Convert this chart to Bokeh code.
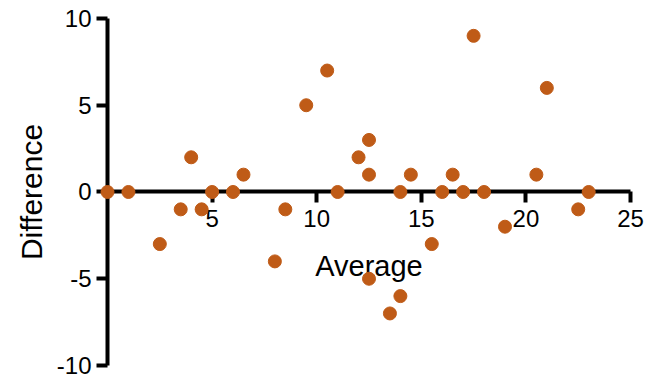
from bokeh.plotting import figure
from bokeh.models import LinearAxis, FixedTicker, Range1d
from bokeh.embed import file_html
from bokeh.resources import INLINE

# Data
average = [0, 1, 2.5, 3.5, 4, 4.5, 5, 6, 6.5, 8, 8.5, 9.5, 10.5, 11, 12, 12.5,
           12.5, 12.5, 13.5, 14, 14, 14.5, 15.5, 16, 16.5, 17, 17.5, 18, 19,
           20.5, 21, 22.5, 23]
difference = [0, 0, -3, -1, 2, -1, 0, 0, 1, -4, -1, 5, 7, 0, 2, 3,
              1, -5, -7, 0, -6, 1, -3, 0, 1, 0, 9, 0, -2,
              1, 6, -1, 0]
x_ticks = [5, 10, 15, 20, 25]
y_ticks = [-10, -5, 0, 5, 10]
y_tick_labels = ["-10", "-5", "0", "5", "10"]

FONT = "Liberation Sans"
COLOR = "#BF5B17"

p = figure(width=654, height=376,
           x_range=Range1d(-5.115, 26.147), y_range=Range1d(-10.634, 11.037),
           output_backend="svg", toolbar_location=None,
           x_axis_type=None, y_axis_type=None,
           min_border=0)
p.outline_line_color = None
p.background_fill_color = "white"
p.border_fill_color = "white"


def style(ax):
    ax.axis_line_width = 4
    ax.axis_line_color = "black"
    ax.major_tick_line_width = 4
    ax.major_tick_line_color = "black"
    ax.major_tick_in = 0
    ax.major_tick_out = 11
    ax.minor_tick_out = 0
    ax.minor_tick_in = 0
    ax.major_label_text_font = FONT
    ax.major_label_text_font_size = "24px"
    ax.major_label_text_color = "black"
    ax.axis_label_text_font = FONT
    ax.axis_label_text_font_size = "29px"
    ax.axis_label_text_font_style = "normal"
    ax.axis_label_text_color = "black"
    ax.level = "underlay"


xa = LinearAxis(ticker=FixedTicker(ticks=x_ticks), fixed_location=0,
                bounds=(0, 25), axis_label="Average")
style(xa)
xa.major_label_standoff = 7
xa.axis_label_standoff = 20
p.add_layout(xa, "below")

ya = LinearAxis(ticker=FixedTicker(ticks=y_ticks), fixed_location=0,
                bounds=(-10, 10), axis_label="Difference")
style(ya)
ya.axis_label_text_font_size = "30px"
ya.major_label_overrides = {t: s for t, s in zip(y_ticks, y_tick_labels)}
ya.major_label_standoff = 5
ya.axis_label_standoff = 6
p.add_layout(ya, "left")

p.scatter(average, difference, size=13, fill_color=COLOR, line_color=COLOR)

open("out.html", "w").write(file_html(p, INLINE))
